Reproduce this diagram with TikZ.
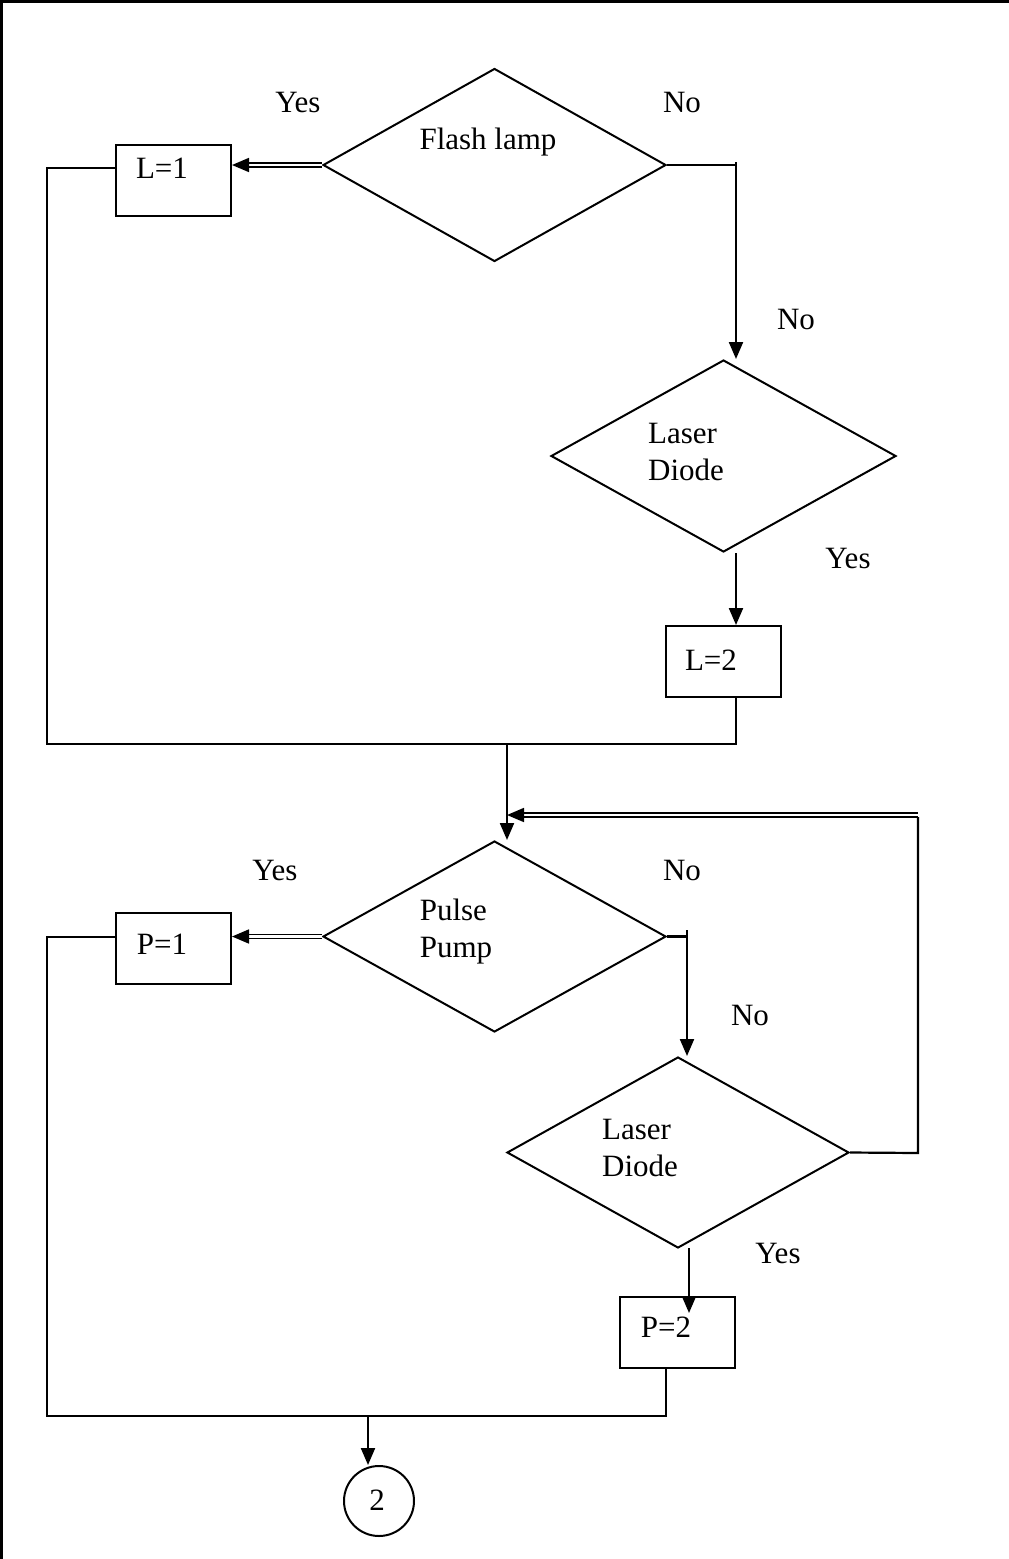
\documentclass[tikz,border=0pt]{standalone}
\usepackage{fontspec}
\setmainfont{Liberation Serif}
\usetikzlibrary{shapes.geometric,arrows.meta,calc}
\begin{document}
\begin{tikzpicture}[x=1pt,y=-1pt,
 line width=2.2pt,
 dia/.style={draw,shape=diamond,inner sep=0pt,line width=2pt},
 box/.style={draw,rectangle,inner sep=0pt,line width=2pt,minimum width=115pt,minimum height=71pt},
 txt/.style={font=\fontsize{31}{37}\selectfont,inner sep=0pt,align=left},
 arr/.style={-{Triangle[length=17pt,width=14pt]}},
 dbl/.style={double,double distance=2.4pt,line width=1.7pt},
]
\useasboundingbox (0,0) rectangle (1009,1559);
\draw[line width=3pt] (1.5,1559) -- (1.5,1.5) -- (1009,1.5);

% shapes
\node[dia,minimum width=343pt,minimum height=193pt] (d1) at (494.5,165) {};
\node[dia,minimum width=345pt,minimum height=192pt] (d2) at (723.5,456) {};
\node[dia,minimum width=343pt,minimum height=191pt] (d3) at (494.5,936.5) {};
\node[dia,minimum width=342pt,minimum height=191pt] (d4) at (678,1152.5) {};
\node[box] (L1) at (173.5,180.5) {};
\node[box] (L2) at (723.5,661.5) {};
\node[box] (P1) at (173.5,948.5) {};
\node[box] (P2) at (677.5,1332.5) {};
\node[draw,circle,minimum size=70pt,inner sep=0pt,line width=2pt] (c2) at (379,1501) {};

% texts
\node[txt] (tFlash) at (488,142) {Flash lamp};
\node[txt] (tL1) at (162,168) {L=1};
\node[txt] (tLD1) at (686,452) {Laser\\Diode};
\node[txt] (tL2) at (711,660) {L=2};
\node[txt] (tPP) at (456,932) {Pulse\\Pump};
\node[txt] (tP1) at (162,944) {P=1};
\node[txt] (tLD2) at (640,1148) {Laser\\Diode};
\node[txt] (tP2) at (666,1327) {P=2};
\node[txt] (t2) at (377,1500) {2};
\node[txt] (y1) at (298,102) {Yes};
\node[txt] (n1) at (682,102) {No};
\node[txt] (n2) at (796,319) {No};
\node[txt] (y2) at (848,558) {Yes};
\node[txt] (y3) at (275,870) {Yes};
\node[txt] (n3) at (682,870) {No};
\node[txt] (n4) at (750,1015) {No};
\node[txt] (y4) at (778,1253) {Yes};

% coordinates
\coordinate (a1) at (736,168);
\coordinate (a1t) at (736,162);
\coordinate (b1) at (47,168);
\coordinate (b2) at (47,744);
\coordinate (b3) at (736,744);
\coordinate (j1) at (507,744);
\coordinate (a3) at (687,936);
\coordinate (a3t) at (687,930);
\coordinate (f1) at (918,1153);
\coordinate (f2) at (918,815);
\coordinate (f3) at (507,815);
\coordinate (e1) at (47,937);
\coordinate (e2) at (47,1416);
\coordinate (e3) at (666,1416);
\coordinate (k1) at (368,1416);

% upper part
\draw[dbl,arr] (d1.west) -- (d1.west -| L1.east);
\draw (d1.east) -- (d1.east -| a1);
\draw[arr] (a1t) -- (a1 |- d2.north);
\draw[arr] (a1 |- d2.south) -- (a1 |- L2.north);
\draw (L1.west |- b1) -- (b1) -- (b2) -- (b3) -- (b3 |- L2.south);
\draw[arr] (j1) -- (j1 |- d3.north);

% feedback
\draw (d4.east) -- (f1) -- ($(f2)+(0,2)$);
\draw[dbl,arr] (f2) -- (f3);

% lower part
\draw[dbl,arr] (d3.west) -- (d3.west -| P1.east);
\draw (d3.east) -- (d3.east -| a3);
\draw[arr] (a3t) -- (a3 |- d4.north);
\draw[arr] (689,1248) -- (689,1313);
\draw (P1.west |- e1) -- (e1) -- (e2) -- (e3) -- (e3 |- P2.south);
\draw[arr] (k1) -- (k1 |- c2.north);
\end{tikzpicture}
\end{document}
